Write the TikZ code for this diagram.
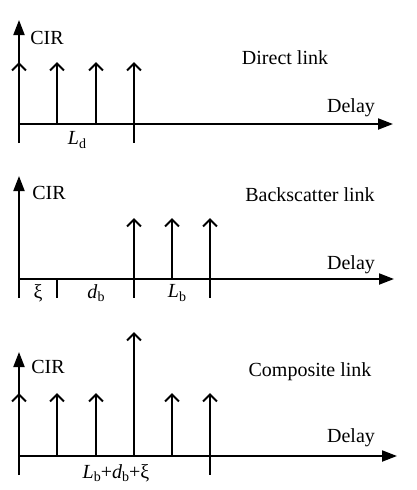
\documentclass[tikz,border=0pt]{standalone}
\usepackage{fontspec}
\setmainfont{Liberation Serif}
\usetikzlibrary{arrows.meta}
\newcommand{\lo}[1]{\raisebox{-0.4ex}{\fontsize{14}{14}\selectfont #1}}
\tikzset{
	axis/.style={line width=2pt, -{Triangle[length=15pt,width=11pt]}},
	impulse/.style={line width=2pt, -{Straight Barb[length=7pt,width=14pt]}},
	tick/.style={line width=2pt},
	lbl/.style={font=\fontsize{20}{24}\selectfont, inner sep=0pt},
}
\begin{document}
\begin{tikzpicture}[x=1pt,y=1pt]
		\useasboundingbox (0,0) rectangle (416,-490);
		% direct link
		\begin{scope}[yshift=-124pt]
			\draw[axis] (19,-19) -- (19,104);
			\draw[axis] (19,0) -- (393,0);
			\foreach \x in {19,57,96,134} {
				\draw[impulse] (\x,0) -- (\x,62);
			}
			\draw[tick] (134,0) -- (134,-19);
			\node[lbl] (cir1) at (47,86) {CIR};
			\node[lbl] (name1) at (285,66) {Direct link};
			\node[lbl] (delay1) at (351,16) {Delay};
			\node[lbl] (ld) at (77,-16) {\textit{L}\lo{d}};
		\end{scope}
		% backscatter link
		\begin{scope}[yshift=-279pt]
			\draw[axis] (19,-19) -- (19,103);
			\draw[axis] (19,0) -- (394,0);
			\foreach \x in {134,172,210} {
				\draw[impulse] (\x,0) -- (\x,61);
			}
			\foreach \x in {57,134,210} {
				\draw[tick] (\x,0) -- (\x,-19);
			}
			\node[lbl] (cir2) at (49,86) {CIR};
			\node[lbl] (name2) at (310,84) {Backscatter link};
			\node[lbl] (delay2) at (351,14) {Delay};
			\node[lbl] (xi) at (38,-14) {ξ};
			\node[lbl] (db) at (96,-14) {\textit{d}\lo{b}};
			\node[lbl] (lb) at (177,-14) {\textit{L}\lo{b}};
		\end{scope}
		% composite link
		\begin{scope}[yshift=-456pt]
			\draw[axis] (19,-19) -- (19,104);
			\draw[axis] (19,0) -- (397,0);
			\foreach \x in {19,57,96,172,210} {
				\draw[impulse] (\x,0) -- (\x,63);
			}
			\draw[impulse] (134,0) -- (134,124);
			\draw[tick] (210,0) -- (210,-19);
			\node[lbl] (cir3) at (48,89) {CIR};
			\node[lbl] (name3) at (310,84) {Composite link};
			\node[lbl] (delay3) at (351,18) {Delay};
			\node[lbl] (sum) at (116,-17) {\textit{L}\lo{b}+\textit{d}\lo{b}+ξ};
		\end{scope}
	\end{tikzpicture}
\end{document}
